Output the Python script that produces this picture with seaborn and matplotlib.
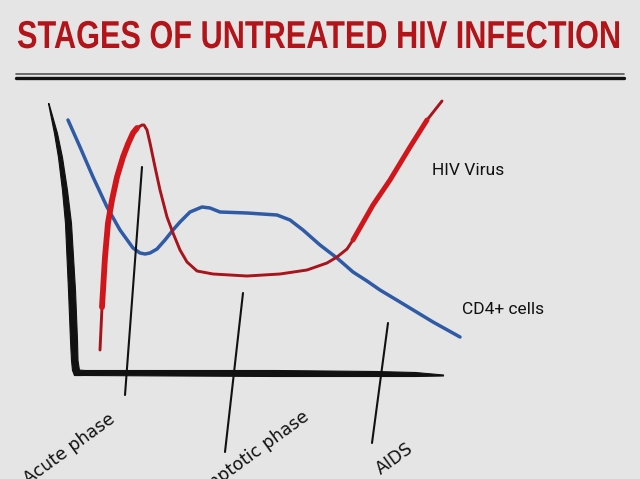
import matplotlib
matplotlib.use("Agg")
import matplotlib.pyplot as plt
import seaborn as sns
import pandas as pd
from matplotlib.lines import Line2D
from matplotlib.patheffects import AbstractPathEffect
from matplotlib.transforms import Affine2D

# ---- data (chart units: time offset, level) ----
hiv_time = [25, 27, 30, 33, 37, 42, 48, 53, 58, 62, 67, 69, 72, 75, 80, 85, 92, 98, 105, 112,
            122, 138, 172, 205, 232, 252, 262, 272, 278, 298, 315, 335, 352, 367]
hiv_level = [23, 66, 116, 150, 173, 196, 216, 229, 240, 245, 248, 248, 243, 230, 206, 183, 156,
             140, 123, 111, 102, 99, 97, 99, 103, 110, 116, 124, 133, 168, 193, 226, 253, 272]

cd4_time = [-7, 5, 18, 32, 45, 58, 65, 70, 75, 82, 90, 98, 105, 115, 127, 135, 145, 172, 202,
            215, 228, 245, 262, 278, 292, 305, 325, 358, 385]
cd4_level = [253, 226, 196, 166, 143, 125, 120, 119, 120, 124, 133, 143, 151, 161, 166, 165,
             161, 160, 158, 153, 143, 128, 115, 101, 92, 83, 71, 51, 36]

phase_labels = ["Acute phase", "Asymptotic phase", "AIDS"]
phase_top_t = [67, 168, 313]
phase_top_v = [206, 80, 50]
phase_bot_t = [50, 150, 297]
phase_bot_v = [-22, -79, -70]

series_labels = ["HIV Virus", "CD4+ cells"]
title = "STAGES OF UNTREATED HIV INFECTION"

# ---- style ----
BG = "#e5e5e5"
RED = "#d0161b"
BLUE = "#2f5aa6"
sns.set_theme(style="white")
plt.rcParams["font.family"] = ["DejaVu Sans"]


class Stretch(AbstractPathEffect):
    """Scale a text's glyphs around a fixed display point (condensed look)."""

    def __init__(self, sx, sy, x0, y0):
        super().__init__()
        self.sx, self.sy, self.x0, self.y0 = sx, sy, x0, y0

    def draw_path(self, renderer, gc, tpath, affine, rgbFace=None):
        tr = affine + Affine2D().translate(-self.x0, -self.y0).scale(self.sx, self.sy) \
            .translate(self.x0, self.y0)
        renderer.draw_path(gc, tpath, tr, rgbFace)


fig = plt.figure(figsize=(6.4, 4.79), dpi=100, facecolor=BG)
W, H = 640, 479
ax = fig.add_axes([75 / W, (H - 373) / H, 370 / W, 273 / H])
ax.set_facecolor(BG)
ax.set_xlim(0, 370)
ax.set_ylim(0, 273)
ax.axis("off")

# title (condensed bold) and double rule
TITLE_W, TITLE_PT, TX, TBASE = 603.0, 28.0, 17.0, 48.0
ttl = fig.text(TX / W, 1 - TBASE / H, title, color="#b3141a", fontsize=TITLE_PT,
               fontweight="bold", family=["Liberation Sans", "DejaVu Sans"],
               ha="left", va="baseline")
fig.canvas.draw()
fs = TITLE_PT * TITLE_W / ttl.get_window_extent().width
ttl.set_fontsize(fs)
fig.canvas.draw()
sx = TITLE_W / ttl.get_window_extent().width
ttl.set_path_effects([Stretch(sx, TITLE_PT / fs, TX, H - TBASE)])

fig.add_artist(Line2D([16 / W, 624 / W], [1 - 74.3 / H] * 2, color="#555555", lw=1.2,
                      transform=fig.transFigure))
fig.add_artist(Line2D([16 / W, 624 / W], [1 - 77.5 / H] * 2, color="#111111", lw=2.4,
                      transform=fig.transFigure))

# black hand-drawn axes
vert_v = [270, 240, 216, 183, 150, 83, 33, 13, 3, -2]
vert_l = [-27, -21, -17, -13, -10, -7, -5, -4, -3, -1]
vert_r = [-26.5, -18, -13, -8, -4, 0, 2, 2.5, 4, 6]
ax.fill_betweenx(vert_v, vert_l, vert_r, color="#111111", lw=0.8, clip_on=False)
hor_t = [-1, 3, 10, 100, 200, 300, 340, 368]
hor_top = [4, 3.5, 3, 3, 3, 2, 1, -1.5]
hor_bot = [-2, -2, -2, -2.5, -3, -3, -3, -2.5]
ax.fill_between(hor_t, hor_bot, hor_top, color="#111111", lw=0.8, clip_on=False)

hiv = pd.DataFrame({"time": hiv_time, "level": hiv_level})
cd4 = pd.DataFrame({"time": cd4_time, "level": cd4_level})

# curves
kw = dict(sort=False, estimator=None, ax=ax, clip_on=False,
          solid_joinstyle="round", solid_capstyle="round")
sns.lineplot(data=cd4, x="time", y="level", color=BLUE, lw=2.5, **kw)
sns.lineplot(data=hiv, x="time", y="level", color="#a8141c", lw=2.1, **kw)
sns.lineplot(data=hiv.iloc[1:10], x="time", y="level", color=RED, lw=4.2, **kw)
sns.lineplot(data=hiv.iloc[28:33], x="time", y="level", color=RED, lw=3.6, **kw)

# phase markers
label_pos = [(41, -48), (235, -46), (339, -78)]
for lab, t0, v0, t1, v1, (lt, lv) in zip(phase_labels, phase_top_t, phase_top_v,
                                         phase_bot_t, phase_bot_v, label_pos):
    ax.plot([t0, t1], [v0, v1], color="#111111", lw=1.5, clip_on=False)
    ax.text(lt, lv, lab, rotation=36, rotation_mode="anchor", ha="right", va="baseline",
            fontsize=12.5, color="#111111", clip_on=False)

ax.text(357, 198, series_labels[0], fontsize=12.5, color="#111111", ha="left",
        va="baseline", family=["Roboto", "DejaVu Sans"], clip_on=False)
ax.text(387, 59, series_labels[1], fontsize=12.5, color="#111111", ha="left",
        va="baseline", family=["Roboto", "DejaVu Sans"], clip_on=False)

if ax.get_legend():
    ax.get_legend().remove()
fig.savefig("out.png", dpi=100, facecolor=BG)
